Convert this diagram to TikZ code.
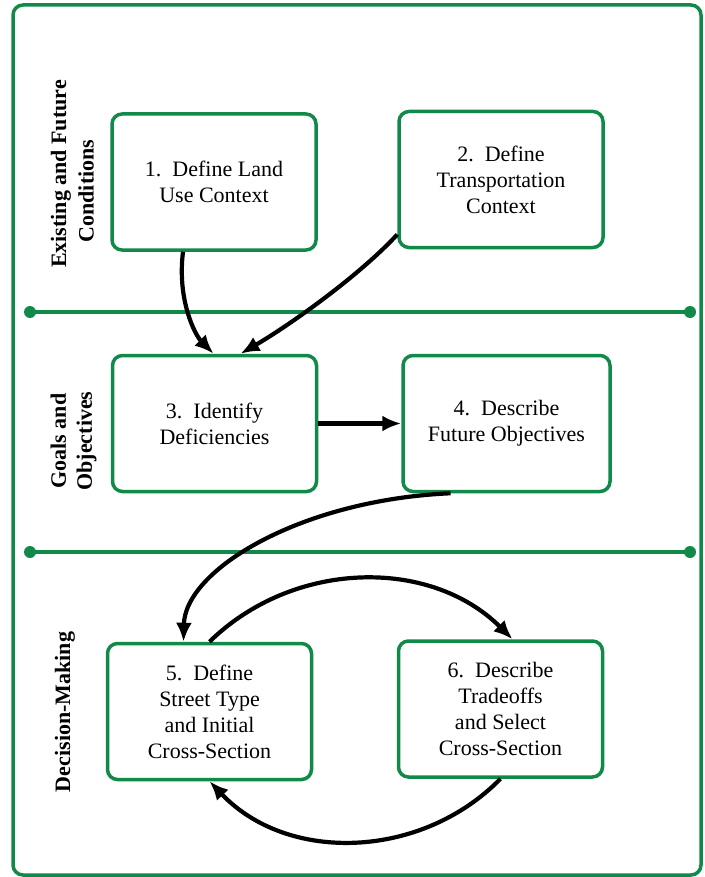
\documentclass[tikz,border=0pt]{standalone}
\usepackage{fontspec}
\setmainfont{Liberation Serif}
\usetikzlibrary{arrows.meta}
\definecolor{fgreen}{RGB}{17,137,72}
\begin{document}
\begin{tikzpicture}[x=1pt,y=-1pt,
  stepbox/.style={draw=fgreen, line width=3.5pt, rounded corners=10pt, minimum width=204pt, minimum height=136pt, inner sep=0pt, align=center, font=\fontsize{22}{26}\selectfont},
  sidelabel/.style={rotate=90, font=\fontsize{22}{26}\selectfont\bfseries, align=center, inner sep=0pt},
  flow/.style={line width=4.2pt, -{Latex[length=19pt,width=16pt]}},
  divider/.style={fgreen, line width=3.5pt},
  dot/.style={fill=fgreen}]
\useasboundingbox (0,0) rectangle (704,877);
% frame
\draw[fgreen, line width=3.5pt, rounded corners=10pt] (13,5) rectangle (701,875);
% dividers
\coordinate (d1l) at (30,312);
\coordinate (d1r) at (690,312);
\coordinate (d2l) at (30,552);
\coordinate (d2r) at (690,552);
\draw[divider] (d1l) -- (d1r);
\draw[divider] (d2l) -- (d2r);
\fill[dot] (d1l) circle (6pt);
\fill[dot] (d1r) circle (6pt);
\fill[dot] (d2l) circle (6pt);
\fill[dot] (d2r) circle (6pt);
% side labels
\node[sidelabel] (l1a) at (61,174) {Existing and Future};
\node[sidelabel] (l1b) at (86,191) {Conditions};
\node[sidelabel] (l2) at (73.5,441) {Goals and\\Objectives};
\node[sidelabel] (l3) at (65,712) {Decision-Making};
% boxes
\node[stepbox] (b1) at (214,182) {1.\ \ Define Land\\Use Context};
\node[stepbox] (b2) at (501,179.5) {2.\ \ Define\\Transportation\\Context};
\node[stepbox] (b3) at (214.5,423.5) {3.\ \ Identify\\Deficiencies};
\node[stepbox, minimum width=207pt] (b4) at (506.5,423.5) {4.\ \ Describe\\Future Objectives};
\node[stepbox] (b5) at (209.5,711.5) {5.\ \ Define\\Street Type\\and Initial\\Cross-Section};
\node[stepbox] (b6) at (500.5,709) {6.\ \ Describe\\Tradeoffs\\and Select\\Cross-Section};
% connectors
\draw[flow] ([xshift=-31pt]b1.south) .. controls (177,300) and (195,335) .. ([xshift=-1pt]b3.north);
\draw[flow] ([yshift=-55pt]b2.west) .. controls (360,275) and (290,325) .. ([xshift=26pt]b3.north);
\draw[flow] (b3.east) -- (b4.west);
\draw[flow] ([xshift=-56pt]b4.south) .. controls (300,500) and (185,570) .. ([xshift=-26pt]b5.north);
\draw[flow] (b5.north) .. controls (293,560) and (430,557) .. ([xshift=12pt]b6.north);
\draw[flow] (b6.south) .. controls (422,859) and (288,864) .. (b5.south);
\end{tikzpicture}
\end{document}
